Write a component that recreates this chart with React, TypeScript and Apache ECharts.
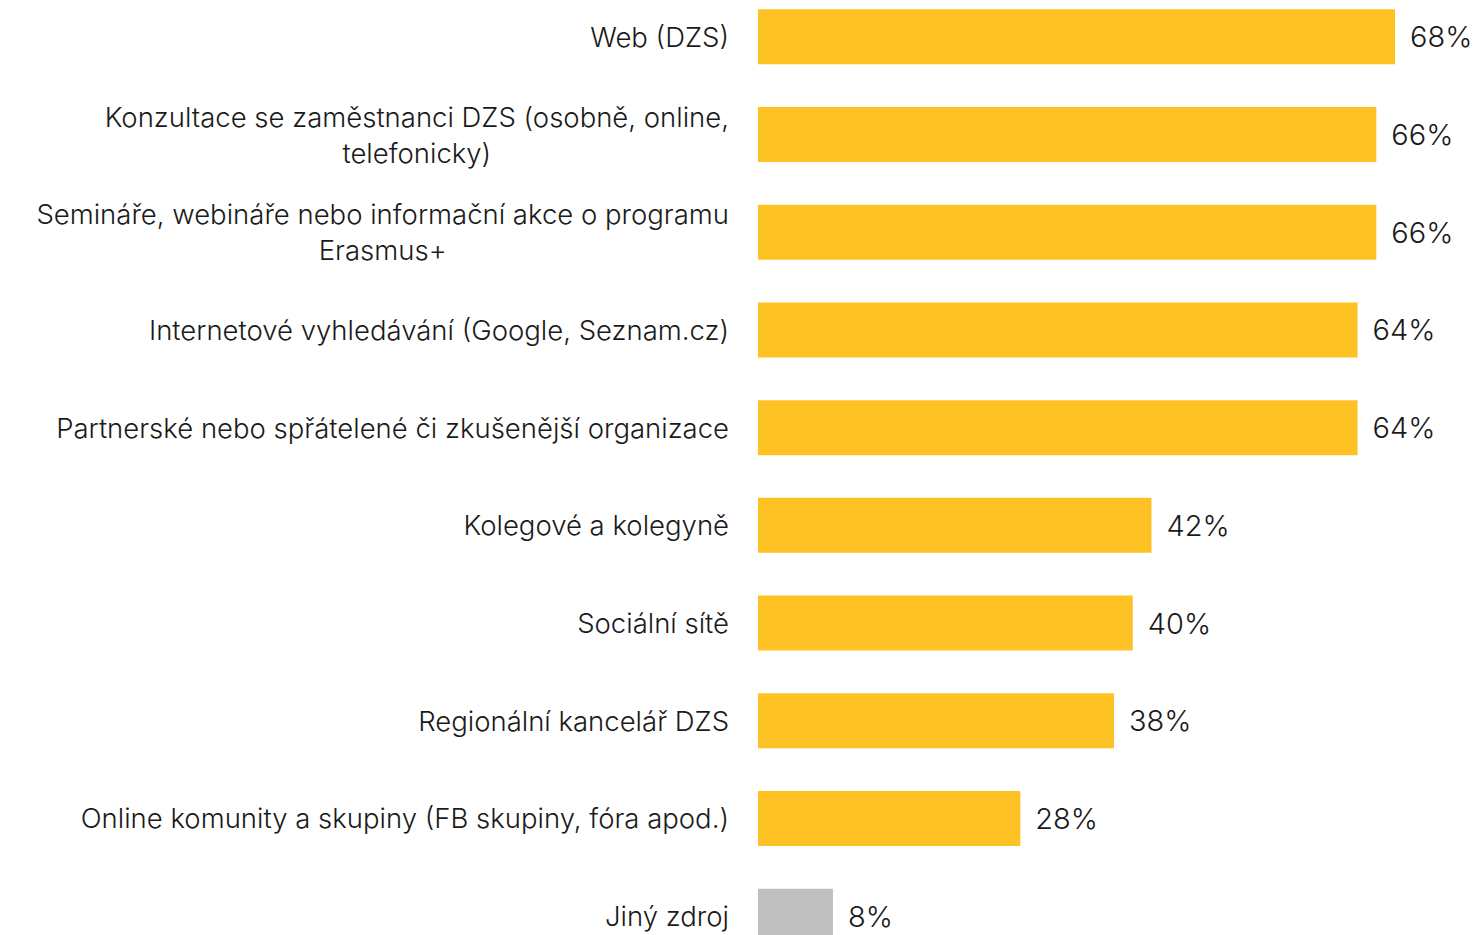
import React, { useEffect, useRef } from "react";
import * as echarts from "echarts";

const categories = [
  "Web (DZS)",
  "Konzultace se zaměstnanci DZS (osobně, online,\ntelefonicky)",
  "Semináře, webináře nebo informační akce o programu\nErasmus+",
  "Internetové vyhledávání (Google, Seznam.cz)",
  "Partnerské nebo spřátelené či zkušenější organizace",
  "Kolegové a kolegyně",
  "Sociální sítě",
  "Regionální kancelář DZS",
  "Online komunity a skupiny (FB skupiny, fóra apod.)",
  "Jiný zdroj",
];
const values = [68, 66, 66, 64, 64, 42, 40, 38, 28, 8];
const barColors = [
  "#FEC224", "#FEC224", "#FEC224", "#FEC224", "#FEC224",
  "#FEC224", "#FEC224", "#FEC224", "#FEC224", "#BFBFBF",
];

const FONT = "Inter";

export default function App() {
  const ref = useRef<HTMLDivElement>(null);
  useEffect(() => {
    if (!ref.current) return;
    const chart = echarts.init(ref.current, null, { renderer: "svg" });
    chart.setOption({
      animation: false,
      backgroundColor: "#ffffff",
      grid: { left: 758, top: 0, width: 712, height: 977, containLabel: false },
      xAxis: {
        type: "value",
        min: 0,
        max: 76,
        show: false,
      },
      yAxis: {
        type: "category",
        inverse: true,
        data: categories,
        axisLine: { show: false },
        axisTick: { show: false },
        axisLabel: {
          margin: 29,
          color: "#1a1a1a",
          fontFamily: FONT,
          fontWeight: 300,
          fontSize: 27.5,
          lineHeight: 36,
          align: "right",
          formatter: (v: string) => `{c|${v.split("\n").join("}\n{c|")}}`,
          rich: {
            c: {
              align: "center",
              fontFamily: FONT,
              fontWeight: 300,
              fontSize: 27.5,
              lineHeight: 36,
              color: "#1a1a1a",
            },
          },
        },
      },
      series: [
        {
          type: "bar",
          barWidth: 55,
          data: values.map((v, i) => ({ value: v, itemStyle: { color: barColors[i] } })),
          label: {
            show: true,
            position: "right",
            distance: 15,
            formatter: "{c}%",
            fontFamily: FONT,
            fontWeight: 300,
            fontSize: 29,
            color: "#1a1a1a",
          },
        },
      ],
    });
    return () => chart.dispose();
  }, []);
  return (
    <div
      style={{
        position: "fixed",
        left: 0,
        top: 0,
        width: 1478,
        height: 935,
        overflow: "hidden",
        background: "#ffffff",
      }}
    >
      <div
        ref={ref}
        style={{ position: "absolute", left: 0, top: -12, width: 1478, height: 977 }}
      />
    </div>
  );
}
